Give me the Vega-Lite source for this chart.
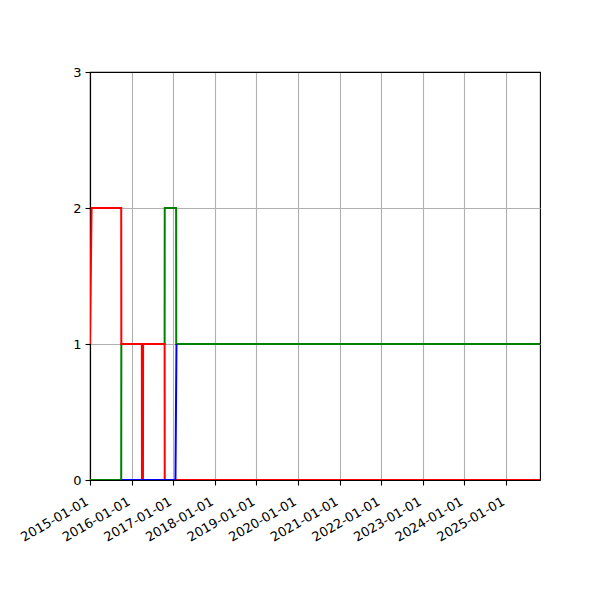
{
  "$schema": "https://vega.github.io/schema/vega-lite/v6.json",
  "width": 450,
  "height": 408,
  "autosize": {"type": "none"},
  "padding": {"left": 90, "top": 72, "right": 60, "bottom": 120},
  "background": "white",
  "config": {
    "view": {"stroke": "black", "strokeWidth": 1.1},
    "axis": {
      "labelFont": "DejaVu Sans",
      "labelFontSize": 13,
      "labelColor": "black",
      "tickColor": "black",
      "tickSize": 5,
      "tickWidth": 1.1,
      "labelPadding": 4,
      "domainColor": "black",
      "domainWidth": 1.1,
      "gridWidth": 1.1,
      "gridOpacity": 1,
      "title": null
    }
  },
  "data": {
    "values": [
      {"series": "green", "date": "2015-01-01", "value": 0},
      {"series": "green", "date": "2015-10-02", "value": 0},
      {"series": "green", "date": "2015-10-03", "value": 1},
      {"series": "green", "date": "2016-10-17", "value": 1},
      {"series": "green", "date": "2016-10-18", "value": 2},
      {"series": "green", "date": "2017-01-26", "value": 2},
      {"series": "green", "date": "2017-01-27", "value": 1},
      {"series": "green", "date": "2025-10-25", "value": 1},
      {"series": "red", "date": "2015-01-01", "value": 1},
      {"series": "red", "date": "2015-01-15", "value": 2},
      {"series": "red", "date": "2015-10-02", "value": 2},
      {"series": "red", "date": "2015-10-03", "value": 1},
      {"series": "red", "date": "2016-03-31", "value": 1},
      {"series": "red", "date": "2016-04-01", "value": 0},
      {"series": "red", "date": "2016-04-10", "value": 0},
      {"series": "red", "date": "2016-04-11", "value": 1},
      {"series": "red", "date": "2016-10-17", "value": 1},
      {"series": "red", "date": "2016-10-18", "value": 0},
      {"series": "red", "date": "2025-10-25", "value": 0},
      {"series": "blue", "date": "2015-10-03", "value": 0},
      {"series": "blue", "date": "2017-01-20", "value": 0},
      {"series": "blue", "date": "2017-01-29", "value": 1}
    ]
  },
  "encoding": {
    "x": {
      "field": "date",
      "type": "temporal",
      "scale": {"domain": ["2015-01-01", "2025-10-25"], "nice": false},
      "axis": {
        "format": "%Y-%m-%d",
        "tickCount": {"interval": "year", "step": 1},
        "labelAngle": -30,
        "labelAlign": "right",
        "labelBaseline": "top",
        "labelOffset": -6,
        "labelPadding": 10,
        "labelFlush": false,
        "labelOverlap": false,
        "domain": true,
        "gridColor": {"condition": {"test": "year(datum.value) === 2015", "value": "black"}, "value": "#b0b0b0"}
      }
    },
    "y": {
      "field": "value",
      "type": "quantitative",
      "scale": {"domain": [0, 3], "nice": false, "zero": false},
      "axis": {
        "values": [0, 1, 2, 3],
        "format": "d",
        "domain": true,
        "gridColor": {"condition": {"test": "datum.value === 3", "value": "black"}, "value": "#b0b0b0"}
      }
    }
  },
  "layer": [
    {
      "transform": [{"filter": "datum.series === 'green'"}],
      "mark": {"type": "line", "color": "#008000", "strokeWidth": 2, "clip": true}
    },
    {
      "transform": [{"filter": "datum.series === 'red'"}],
      "mark": {"type": "line", "color": "#ff0000", "strokeWidth": 2, "clip": true}
    },
    {
      "transform": [{"filter": "datum.series === 'blue'"}],
      "mark": {"type": "line", "color": "#0000ff", "strokeWidth": 2, "clip": true}
    }
  ]
}
